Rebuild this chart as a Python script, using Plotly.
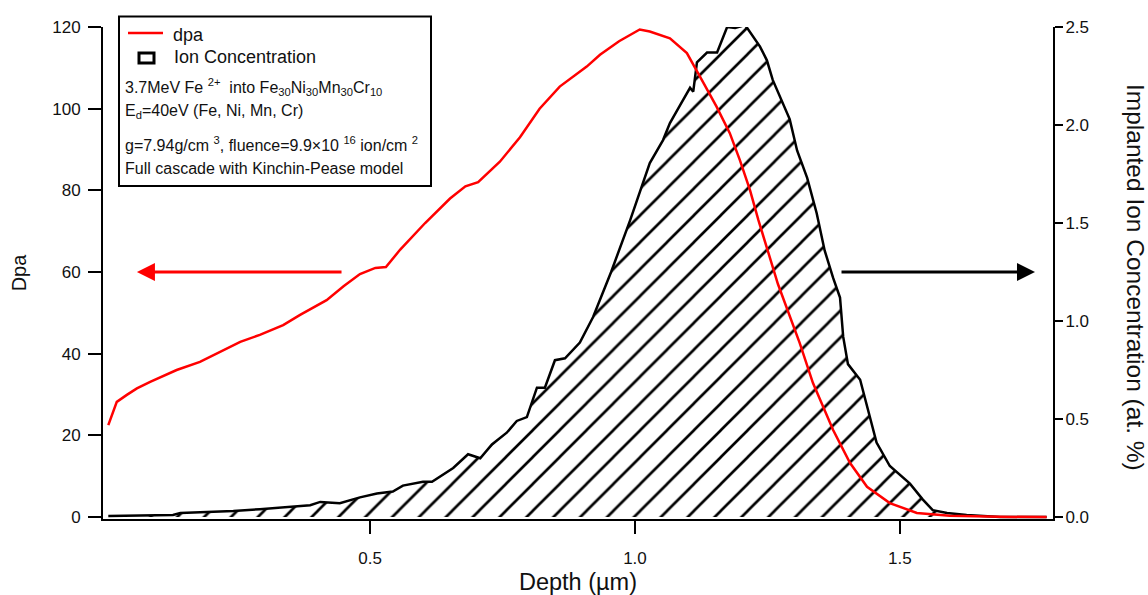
import plotly.graph_objects as go

# ---------------- data ----------------
dpa_depth = [0.006, 0.022, 0.041, 0.060, 0.085, 0.135, 0.179, 0.217, 0.255, 0.292,
             0.336, 0.368, 0.418, 0.450, 0.481, 0.510, 0.530, 0.557, 0.604, 0.651,
             0.680, 0.704, 0.745, 0.783, 0.820, 0.858, 0.909, 0.934, 0.970, 1.009,
             1.028, 1.066, 1.098, 1.123, 1.154, 1.179, 1.198, 1.217, 1.233, 1.270,
             1.311, 1.336, 1.374, 1.406, 1.438, 1.481, 1.532, 1.594, 1.689, 1.777]
dpa_values = [22.5, 28.2, 29.9, 31.5, 33.1, 36.0, 38.0, 40.5, 42.9, 44.6,
              47.0, 49.5, 53.1, 56.5, 59.5, 61.0, 61.2, 65.5, 72.0, 78.0,
              81.0, 82.0, 87.0, 93.0, 100.0, 105.4, 110.3, 113.2, 116.5, 119.4,
              118.9, 117.2, 113.6, 107.8, 100.5, 94.0, 87.4, 80.1, 72.7, 57.0,
              42.6, 32.8, 21.3, 13.2, 7.4, 3.4, 1.0, 0.3, 0.05, 0.0]

ion_depth = [0.006, 0.128, 0.142, 0.217, 0.242, 0.292, 0.343, 0.387, 0.406, 0.443,
             0.481, 0.513, 0.543, 0.562, 0.600, 0.617, 0.657, 0.685, 0.708, 0.730,
             0.758, 0.777, 0.796, 0.815, 0.830, 0.849, 0.868, 0.896, 0.921, 0.955,
             0.991, 1.028, 1.053, 1.066, 1.085, 1.104, 1.110, 1.117, 1.136, 1.155,
             1.174, 1.189, 1.208, 1.236, 1.249, 1.260, 1.292, 1.306, 1.325, 1.343,
             1.358, 1.374, 1.387, 1.393, 1.402, 1.425, 1.456, 1.481, 1.519, 1.543,
             1.562, 1.589, 1.626, 1.689, 1.777]
ion_values = [0.005, 0.010, 0.020, 0.025, 0.030, 0.040, 0.050, 0.060, 0.077, 0.070,
              0.100, 0.120, 0.130, 0.160, 0.180, 0.180, 0.250, 0.320, 0.300, 0.370,
              0.430, 0.490, 0.510, 0.660, 0.660, 0.800, 0.810, 0.890, 1.020, 1.250,
              1.515, 1.806, 1.923, 2.010, 2.100, 2.190, 2.170, 2.320, 2.370, 2.370,
              2.500, 2.495, 2.510, 2.400, 2.330, 2.230, 2.030, 1.870, 1.730, 1.550,
              1.360, 1.220, 1.120, 0.920, 0.780, 0.700, 0.380, 0.260, 0.170, 0.090,
              0.035, 0.020, 0.010, 0.000, 0.000]

dpa_ticks = [0, 20, 40, 60, 80, 100, 120]
ion_ticks = [0.0, 0.5, 1.0, 1.5, 2.0, 2.5]
ion_ticktext = ["0.0", "0.5", "1.0", "1.5", "2.0", "2.5"]
depth_ticks = [0.5, 1.0, 1.5]
depth_ticktext = ["0.5", "1.0", "1.5"]

legend_entries = ["dpa", "Ion Concentration"]
legend_lines = [
    "3.7MeV Fe <sup>2+</sup>  into Fe<sub>30</sub>Ni<sub>30</sub>Mn<sub>30</sub>Cr<sub>10</sub>",
    "E<sub>d</sub>=40eV (Fe, Ni, Mn, Cr)",
    "g=7.94g/cm <sup>3</sup>, fluence=9.9×10 <sup>16</sup> ion/cm <sup>2</sup>",
    "Full cascade with Kinchin-Pease model",
]

# ---------------- layout geometry ----------------
W, H = 1148, 595
ML, MR, MT, MB = 103, 95, 27, 76
PW, PH = W - ML - MR, H - MT - MB
FONT = "Arial, 'Liberation Sans', sans-serif"
INK = "#111111"


def px(x):
    return (x - ML) / PW


def py(y):
    return (H - MB - y) / PH


fig = go.Figure()

# ion concentration on primary y (drawn underneath), hatched
fig.add_trace(go.Scatter(
    x=ion_depth, y=ion_values, mode="lines", yaxis="y",
    line=dict(color="black", width=2.5),
    fill="tozeroy", fillcolor="white",
    fillpattern=dict(shape="/", size=19, solidity=0.14, fgopacity=1,
                     fgcolor="black", bgcolor="white"),
    name=legend_entries[1], showlegend=False,
))

# dpa on overlaying axis (drawn on top)
fig.add_trace(go.Scatter(
    x=dpa_depth, y=dpa_values, mode="lines", yaxis="y2",
    line=dict(color="#ff0000", width=2.5),
    name=legend_entries[0], showlegend=False,
))

axis_common = dict(showgrid=False, zeroline=False, showline=True,
                   linecolor="black", linewidth=2, ticks="outside",
                   tickcolor="black", tickwidth=2, automargin=False,
                   tickfont=dict(family=FONT, size=17, color=INK))

fig.update_layout(
    width=W, height=H,
    margin=dict(l=ML, r=MR, t=MT, b=MB, pad=0, autoexpand=False),
    paper_bgcolor="white", plot_bgcolor="white",
    showlegend=False,
    font=dict(family=FONT, color=INK),
    xaxis=dict(range=[-0.004, 1.789], tickvals=depth_ticks, ticktext=depth_ticktext,
               ticklen=13, ticklabelstandoff=10,
               title=dict(text="Depth (µm)", font=dict(family=FONT, size=23.5, color=INK),
                          standoff=7),
               **axis_common),
    yaxis=dict(range=[-0.0102, 2.5], side="right", tickvals=ion_ticks,
               ticktext=ion_ticktext, ticklen=8, ticklabelstandoff=-1,
               **axis_common),
    yaxis2=dict(range=[-0.49, 120], side="left", overlaying="y",
                tickvals=dpa_ticks, ticklen=13, ticklabelstandoff=4,
                title=dict(text="Dpa", font=dict(family=FONT, size=20, color=INK),
                           standoff=20),
                **axis_common),
)

annotations = []
# right axis title (reads top to bottom)
annotations.append(dict(
    text="Implanted Ion Concentration (at. %)", x=px(1136), y=py(277),
    xref="paper", yref="paper", showarrow=False, textangle=90,
    xanchor="center", yanchor="middle",
    font=dict(family=FONT, size=24.5, color=INK),
))

# arrows
annotations.append(dict(
    x=0.060, y=60, ax=0.449, ay=60, xref="x", yref="y2", axref="x", ayref="y2",
    text="", showarrow=True, arrowhead=2, arrowsize=1.2, arrowwidth=3,
    arrowcolor="#ff0000",
))
annotations.append(dict(
    x=1.755, y=60, ax=1.387, ay=60, xref="x", yref="y2", axref="x", ayref="y2",
    text="", showarrow=True, arrowhead=2, arrowsize=1.2, arrowwidth=3,
    arrowcolor="black",
))

# legend box text
ef = dict(family=FONT, size=18, color=INK)
lf = dict(family=FONT, size=16, color=INK)
annotations.append(dict(text=legend_entries[0], x=px(171), y=py(35), xref="paper",
                        yref="paper", showarrow=False, xanchor="left",
                        yanchor="middle", font=ef))
annotations.append(dict(text=legend_entries[1], x=px(172), y=py(57), xref="paper",
                        yref="paper", showarrow=False, xanchor="left",
                        yanchor="middle", font=ef))
line_y = [87, 112, 144, 168]
for t, yy in zip(legend_lines, line_y):
    annotations.append(dict(text=t, x=px(123), y=py(yy), xref="paper", yref="paper",
                            showarrow=False, xanchor="left", yanchor="middle",
                            font=lf))

fig.update_layout(annotations=annotations)

shapes = [
    dict(type="rect", xref="paper", yref="paper", x0=px(119), x1=px(431),
         y0=py(186), y1=py(16.5), line=dict(color="black", width=2),
         fillcolor="white", layer="above"),
    dict(type="line", xref="paper", yref="paper", x0=px(128), x1=px(163),
         y0=py(33), y1=py(33), line=dict(color="#ff0000", width=2.5)),
    dict(type="rect", xref="paper", yref="paper", x0=px(139), x1=px(154),
         y0=py(63), y1=py(53), line=dict(color="black", width=3)),
]
fig.update_layout(shapes=shapes)

fig.write_html("out.html")
